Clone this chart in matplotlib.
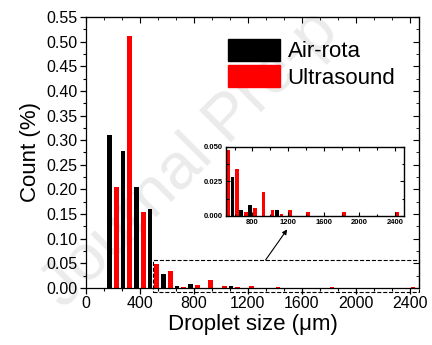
import matplotlib
matplotlib.use('Agg')
import matplotlib.pyplot as plt
from matplotlib.patches import Rectangle, Patch
from matplotlib.ticker import MultipleLocator, AutoMinorLocator, FormatStrFormatter

plt.rcParams['font.family'] = ['Liberation Sans', 'DejaVu Sans']

# droplet size bins (um) and counts
air_x = [175, 275, 375, 475, 575, 675, 775, 1075]
air_y = [0.31, 0.279, 0.205, 0.16, 0.0285, 0.0042, 0.0083, 0.0042]
us_x = [225, 325, 425, 525, 625, 725, 825, 925, 1025, 1125, 1225, 1425, 1825, 2425]
us_y = [0.206, 0.512, 0.155, 0.048, 0.034, 0.003, 0.0058, 0.0172, 0.0043,
        0.0014, 0.0043, 0.0029, 0.0029, 0.0029]
labels = ['Air-rota', 'Ultrasound']
colors = ['black', '#ff0000']

fig = plt.figure(figsize=(4.32, 3.45), dpi=100)

# faint watermark behind everything
fig.text(0.17, 0.075, 'Journal Pre-p', fontsize=47, color='#ebebeb',
         rotation=45, rotation_mode='anchor', ha='left', va='bottom', zorder=-1)

ax = fig.add_axes([0.199, 0.165, 0.771, 0.786])
ax.patch.set_alpha(0)
ax.bar(air_x, air_y, width=35, color=colors[0], zorder=2)
ax.bar(us_x, us_y, width=35, color=colors[1], zorder=2)
ax.set_xlim(0, 2470)
ax.set_ylim(0, 0.55)
ax.xaxis.set_major_locator(MultipleLocator(400))
ax.xaxis.set_minor_locator(AutoMinorLocator(3))
ax.yaxis.set_major_locator(MultipleLocator(0.05))
ax.yaxis.set_minor_locator(AutoMinorLocator(2))
ax.yaxis.set_major_formatter(FormatStrFormatter('%.2f'))
ax.tick_params(axis='both', which='major', direction='out', length=4, width=0.9,
               labelsize=11.5, pad=2)
ax.tick_params(axis='both', which='minor', direction='out', length=2.5, width=0.8)
ax.set_xlabel('Droplet size (\u03bcm)', fontsize=16, labelpad=2)
ax.set_ylabel('Count (%)', fontsize=16, labelpad=4)
for s in ax.spines.values():
    s.set_linewidth(0.9)

# tick marks on top/right pointing in
ax2 = ax.secondary_xaxis('top')
ax2.xaxis.set_major_locator(MultipleLocator(400))
ax2.xaxis.set_minor_locator(AutoMinorLocator(3))
ax2.tick_params(direction='in', which='major', length=4, labeltop=False)
ax2.tick_params(direction='in', which='minor', length=2.5)
ax3 = ax.secondary_yaxis('right')
ax3.yaxis.set_major_locator(MultipleLocator(0.05))
ax3.yaxis.set_minor_locator(AutoMinorLocator(2))
ax3.tick_params(direction='in', which='major', length=4, labelright=False)
ax3.tick_params(direction='in', which='minor', length=2.5)

handles = [Patch(color=c) for c in colors]
ax.legend(handles, labels, loc='upper left', bbox_to_anchor=(0.427, 0.92),
          frameon=False, fontsize=16, handlelength=2.35, handleheight=1.15,
          handletextpad=0.32, labelspacing=0.13, borderpad=0, borderaxespad=0)

# zoom rectangle and arrow
ax.add_patch(Rectangle((495, -0.0087), 2470 - 495, 0.0655, fill=False, ls='--',
                       lw=0.8, color='black', clip_on=False, zorder=3))
ax.annotate('', xy=(1492, 0.119), xytext=(1332, 0.057),
            arrowprops=dict(arrowstyle='-|>', lw=0.8, color='black',
                            shrinkA=0, shrinkB=0, mutation_scale=7))

# inset
ins = fig.add_axes([0.523, 0.374, 0.412, 0.2])
ins.patch.set_alpha(0)
ins.bar(air_x, air_y, width=42, color=colors[0])
ins.bar(us_x, us_y, width=42, color=colors[1])
ins.set_xlim(502, 2500)
ins.set_ylim(0, 0.05)
ins.xaxis.set_major_locator(MultipleLocator(400))
ins.xaxis.set_minor_locator(MultipleLocator(200))
ins.yaxis.set_major_locator(MultipleLocator(0.025))
ins.yaxis.set_minor_locator(MultipleLocator(0.0125))
ins.yaxis.set_major_formatter(FormatStrFormatter('%.3f'))
ins.tick_params(which='both', direction='in', top=True, right=True, width=0.8)
ins.tick_params(which='major', length=3, labelsize=5.5, pad=2)
ins.tick_params(which='minor', length=1.8)
for lab in ins.get_xticklabels() + ins.get_yticklabels():
    lab.set_fontweight('bold')
for s in ins.spines.values():
    s.set_linewidth(1.0)

fig.savefig('out.png', dpi=100)
